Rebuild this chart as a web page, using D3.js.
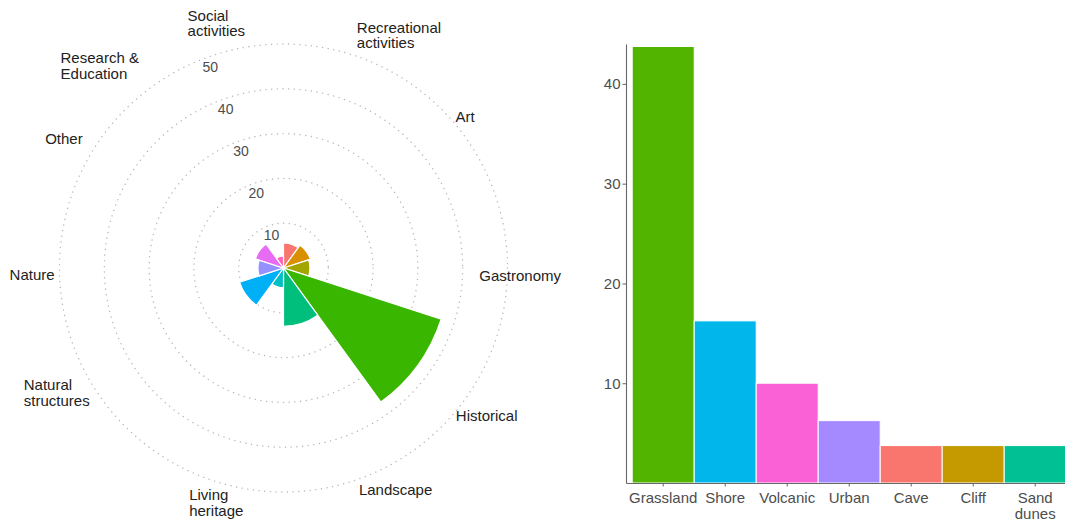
<html>
<head>
<style>
  body { margin: 0; background: #fff; }
  text { font-family: "Liberation Sans", Arial, sans-serif; }
</style>
</head>
<body>
<script src="https://cdn.jsdelivr.net/npm/d3@7"></script>

<div id="container1"></div>

<script>

// polar chart data (bars drawn clockwise from 12 o'clock)
const polarCats = ["Art", "Gastronomy", "Historical", "Landscape", "Living heritage",
  "Natural structures", "Nature", "Recreational activities", "Research & Education", "Social activities"];
const polarValues = [5.6, 6.3, 5.9, 37.0, 13.0, 4.4, 10.3, 5.7, 6.6, 2.7];
const polarColors = ["#F8766D", "#D89000", "#A3A500", "#39B600", "#00BF7D",
  "#00BFC4", "#00B0F6", "#9590FF", "#E76BF3", "#FF62BC"];
const radialTicks = [10, 20, 30, 40, 50];

// labels printed round the polar chart
const outerLabels = ["Social\nactivities", "Recreational\nactivities", "Art", "Gastronomy",
  "Historical", "Landscape", "Living\nheritage", "Natural\nstructures", "Nature", "Other",
  "Research &\nEducation"];

// bar chart data
const barCats = ["Grassland", "Shore", "Volcanic", "Urban", "Cave", "Cliff", "Sand dunes"];
const barValues = [43.75, 16.25, 10, 6.25, 3.75, 3.75, 3.75];
const barColors = ["#53B400", "#00B6EB", "#FB61D7", "#A58AFF", "#F8766D", "#C49A00", "#00C094"];
const barTicks = [10, 20, 30, 40];

// layout: where each outer label sits (angle in degrees clockwise from top, distance from centre)
const labelLayout = [[338.6, 263], [17.5, 244], [48.7, 229], [92.3, 196], [130.6, 227],
  [161.2, 234], [201.9, 253], [244.4, 288], [268.5, 274], [298.4, 271], [312.2, 301]];

const width = 1065, height = 523;

const svg = d3.select("#container1")
  .append("svg")
    .attr("width", width)
    .attr("height", height);

// ---------- polar chart ----------
const cx = 283.5, cy = 268;
const polar = svg.append("g").attr("transform", `translate(${cx},${cy})`);

const r = d3.scaleLinear().domain([0, 50]).range([0, 224]);
const angle = d3.scaleBand().domain(polarCats).range([0, 2 * Math.PI]).padding(0);

polar.selectAll("circle.grid")
  .data(radialTicks)
  .join("circle")
    .attr("class", "grid")
    .attr("r", d => r(d))
    .attr("fill", "none")
    .attr("stroke", "#b8b8b8")
    .attr("stroke-width", 1.4)
    .attr("stroke-linecap", "round")
    .attr("stroke-dasharray", "0.1 5.6");

const arc = d3.arc()
  .innerRadius(0)
  .outerRadius(d => r(d.v))
  .startAngle(d => angle(d.c))
  .endAngle(d => angle(d.c) + angle.bandwidth());

polar.selectAll("path.bar")
  .data(polarCats.map((c, i) => ({c: c, v: polarValues[i], col: polarColors[i]})))
  .join("path")
    .attr("class", "bar")
    .attr("d", arc)
    .attr("fill", d => d.col)
    .attr("stroke", "#fff")
    .attr("stroke-width", 1.2);

// radial tick labels along one spoke
const tickAngle = -20 * Math.PI / 180;
polar.selectAll("text.rtick")
  .data(radialTicks)
  .join("text")
    .attr("class", "rtick")
    .attr("x", d => (r(d) - 10) * Math.sin(tickAngle))
    .attr("y", d => -(r(d) - 10) * Math.cos(tickAngle))
    .attr("dy", "0.35em")
    .attr("text-anchor", "middle")
    .style("font-size", "14px")
    .style("fill", "#4d4d4d")
    .text(d => d);

const lineH = 15.7;
outerLabels.forEach((lab, i) => {
  const a = labelLayout[i][0] * Math.PI / 180, d = labelLayout[i][1];
  const lines = lab.split("\n");
  const t = polar.append("text")
    .attr("x", d * Math.sin(a))
    .attr("y", -d * Math.cos(a) - (lines.length - 1) * lineH / 2)
    .style("font-size", "15px")
    .style("fill", "#222");
  lines.forEach((ln, j) => {
    t.append("tspan")
      .attr("x", d * Math.sin(a))
      .attr("dy", j === 0 ? "0.35em" : lineH)
      .text(ln);
  });
});

// ---------- bar chart ----------
const x = d3.scaleBand()
  .domain(barCats)
  .range([626, 1072.4])
  .paddingInner(0)
  .paddingOuter(0.1);

const y = d3.scaleLinear()
  .domain([0, 44])
  .range([483, 44]);

svg.selectAll("rect.bar")
  .data(barCats.map((c, i) => ({c: c, v: barValues[i], col: barColors[i]})))
  .join("rect")
    .attr("class", "bar")
    .attr("x", d => x(d.c))
    .attr("y", d => y(d.v))
    .attr("width", x.bandwidth())
    .attr("height", d => y(0) - y(d.v))
    .attr("fill", d => d.col)
    .attr("stroke", "#fff")
    .attr("stroke-width", 1);

const yAxis = svg.append("g")
  .attr("transform", "translate(626,0)")
  .call(d3.axisLeft(y).tickValues(barTicks).tickSize(3.5).tickSizeOuter(0).tickPadding(2));

const xAxis = svg.append("g")
  .attr("transform", `translate(0,${y(0)})`)
  .call(d3.axisBottom(x).tickSize(3.5).tickSizeOuter(0).tickPadding(6));

[yAxis, xAxis].forEach(g => {
  g.select(".domain").attr("stroke", "#666").attr("stroke-width", 1.1);
  g.selectAll(".tick line").attr("stroke", "#666");
  g.selectAll(".tick text")
    .style("font-size", "15px")
    .style("font-family", "'Liberation Sans', Arial, sans-serif")
    .attr("fill", "#4d4d4d");
});

// two-line label for "Sand dunes"
xAxis.selectAll(".tick text").each(function(d) {
  const parts = d.split(" ");
  if (d === "Sand dunes") {
    const t = d3.select(this);
    t.text(null);
    parts.forEach((p, j) => {
      t.append("tspan").attr("x", 0).attr("dy", j === 0 ? "0.71em" : "1.05em").text(p);
    });
    t.attr("dy", null);
  }
});

</script>
</body>
</html>
